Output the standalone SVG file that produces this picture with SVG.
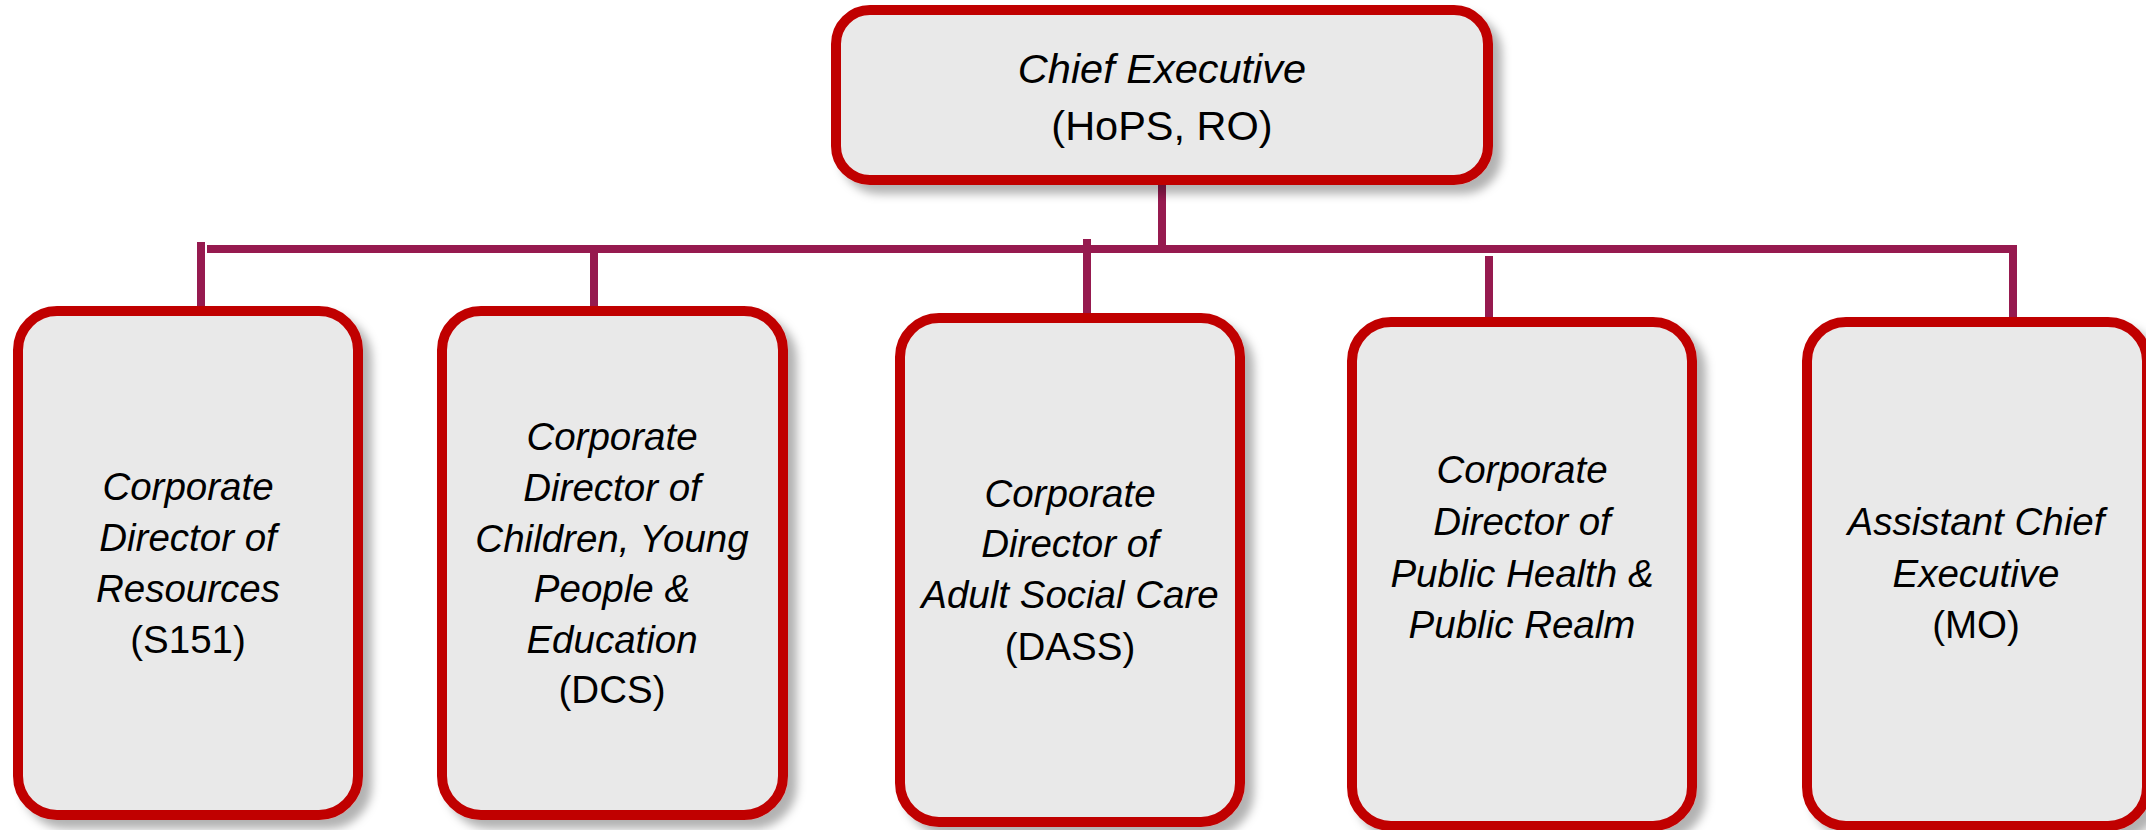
<svg xmlns="http://www.w3.org/2000/svg" width="2146" height="830" viewBox="0 0 2146 830">
  <defs>
    <filter id="shadow" x="-10%" y="-10%" width="130%" height="130%">
      <feDropShadow dx="9" dy="9" stdDeviation="5" flood-color="#000000" flood-opacity="0.3"/>
    </filter>
  </defs>
  <style>
    .box { fill: #E9E9E9; stroke: #C00000; stroke-width: 10; filter: url(#shadow); }
    .conn { stroke: #961A4F; stroke-width: 8; fill: none; }
    .t { font-family: "Liberation Sans", Arial, sans-serif; font-size: 38.5px; fill: #000000; text-anchor: middle; }
    .it { font-style: italic; }
    .top { font-size: 41.5px; }
  </style>
  <rect width="2146" height="830" fill="#FFFFFF"/>

  <g id="connectors">
    <line class="conn" x1="1162" y1="185" x2="1162" y2="249"/>
    <line class="conn" x1="207" y1="249" x2="2017" y2="249"/>
    <line class="conn" x1="201" y1="242" x2="201" y2="306"/>
    <line class="conn" x1="594" y1="249" x2="594" y2="306"/>
    <line class="conn" x1="1087" y1="239" x2="1087" y2="313"/>
    <line class="conn" x1="1489" y1="256" x2="1489" y2="317"/>
    <line class="conn" x1="2013" y1="249" x2="2013" y2="317"/>
  </g>

  <g id="chief">
    <rect class="box" x="836" y="10" width="652" height="170" rx="34" ry="34"/>
    <text class="t top it" x="1162" y="83">Chief Executive</text>
    <text class="t top" x="1162" y="140">(HoPS, RO)</text>
  </g>

  <g id="resources">
    <rect class="box" x="18" y="311" width="340" height="504" rx="39" ry="39"/>
    <text class="t it" x="188" y="500">Corporate</text>
    <text class="t it" x="188" y="551">Director of</text>
    <text class="t it" x="188" y="602">Resources</text>
    <text class="t" x="188" y="653">(S151)</text>
  </g>

  <g id="children">
    <rect class="box" x="442" y="311" width="341" height="504" rx="39" ry="39"/>
    <text class="t it" x="612" y="450">Corporate</text>
    <text class="t it" x="612" y="501">Director of</text>
    <text class="t it" x="612" y="552">Children, Young</text>
    <text class="t it" x="612" y="602">People &amp;</text>
    <text class="t it" x="612" y="653">Education</text>
    <text class="t" x="612" y="703">(DCS)</text>
  </g>

  <g id="adult">
    <rect class="box" x="900" y="318" width="340" height="504" rx="39" ry="39"/>
    <text class="t it" x="1070" y="507">Corporate</text>
    <text class="t it" x="1070" y="557">Director of</text>
    <text class="t it" x="1070" y="608">Adult Social Care</text>
    <text class="t" x="1070" y="660">(DASS)</text>
  </g>

  <g id="publichealth">
    <rect class="box" x="1352" y="322" width="340" height="504" rx="39" ry="39"/>
    <text class="t it" x="1522" y="483">Corporate</text>
    <text class="t it" x="1522" y="535">Director of</text>
    <text class="t it" x="1522" y="587">Public Health &amp;</text>
    <text class="t it" x="1522" y="638">Public Realm</text>
  </g>

  <g id="assistant">
    <rect class="box" x="1807" y="322" width="340" height="504" rx="39" ry="39"/>
    <text class="t it" x="1976" y="535">Assistant Chief</text>
    <text class="t it" x="1976" y="587">Executive</text>
    <text class="t" x="1976" y="638">(MO)</text>
  </g>
</svg>
